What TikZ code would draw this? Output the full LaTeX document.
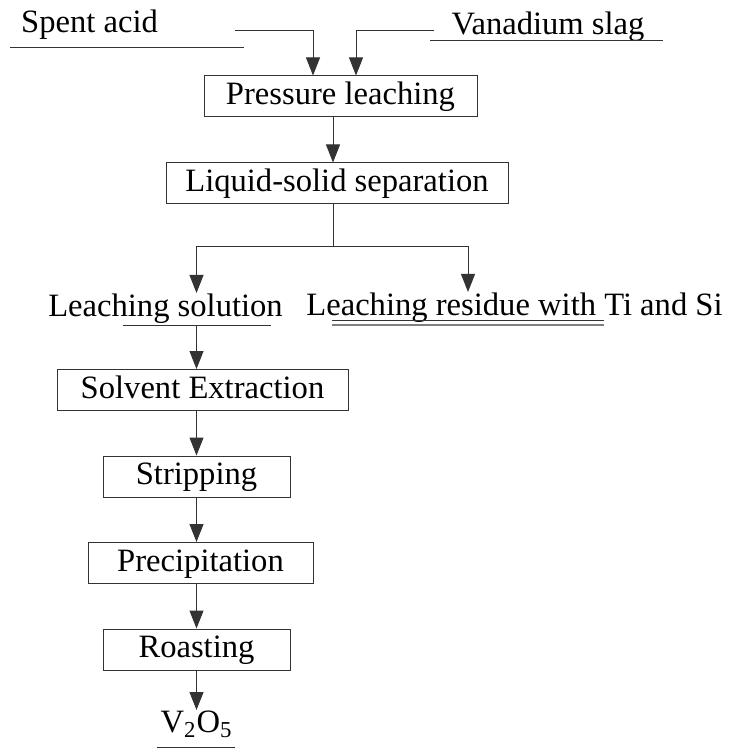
\documentclass[tikz,border=0pt]{standalone}
\usepackage{fontspec}
\setmainfont{Liberation Serif}
\usetikzlibrary{positioning, arrows.meta, calc}

\tikzset{
    stage/.style={draw=black!80, line width=0.5pt, inner sep=0pt,
        minimum height=20.5pt, text height=11.4pt, text depth=3.3pt},
    txt/.style={inner sep=0pt, anchor=base},
    flow/.style={draw=black!80, line width=0.5pt}
}

\begin{document}
\begin{tikzpicture}[
                x=0.5pt, y=-0.5pt,
                node distance=22.25pt,
                font=\fontsize{16.3}{19.5}\selectfont,
                >={Triangle[width=7pt,length=9pt]}
            ]
                \useasboundingbox (0,0) rectangle (728,748);

                % feeds
                \node[txt] (acid) at (89.5,33) {Spent acid};
                \node[txt] (slag) at (548,35) {Vanadium slag};
                \coordinate (acidA) at (10,48);
                \coordinate (acidB) at (244,48);
                \coordinate (acidC) at (235,31);
                \coordinate (slagA) at (430,41);
                \coordinate (slagB) at (663,41);
                \coordinate (slagC) at (434,31);

                \node[stage, minimum width=136.5pt] (press) at (340.5,96.5) {Pressure leaching};
                \node[stage, minimum width=171pt] (liquid) [below=22.5pt of press, xshift=-1.75pt] {Liquid-solid separation};
                \coordinate (split) at (333,247);

                % products
                \node[txt] (sol) at (165.5,316) {Leaching solution};
                \node[txt] (res) at (514.5,315) {Leaching residue with Ti and Si};
                \coordinate (solA) at (123,325);
                \coordinate (solB) at (271,325);
                \coordinate (resA) at (332,320);
                \coordinate (resB) at (604,320);
                \coordinate (resmid) at ($(resA)!.5!(resB)$);

                \node[stage, minimum width=145.5pt] (solvent) at (202.5,390) {Solvent Extraction};
                \node[stage, minimum width=93.5pt] (strip) [below=of solvent, xshift=-3pt] {Stripping};
                \node[stage, minimum width=112.5pt] (precip) [below=of strip, xshift=2pt] {Precipitation};
                \node[stage, minimum width=93.5pt] (roast) [below=of precip, xshift=-2pt] {Roasting};

                \node[txt] (vo) at (196.5,732) {V\textsubscript{2}O\textsubscript{5}};
                \coordinate (voA) at (157,747);
                \coordinate (voB) at (235,747);

                % underlines
                \draw[flow] (acidA) -- (acidB);
                \draw[flow] (slagA) -- (slagB);
                \draw[flow] (solA) -- (solB);
                \draw[flow] (resA) -- (resB);
                \draw[gray, line width=0.75pt] ([yshift=-2.5pt]resA) -- ([yshift=-2.5pt]resB);
                \draw[flow] (voA) -- (voB);

                % connectors
                \draw[flow,->] (acidC) -| ([xshift=-13.75pt]press.north);
                \draw[flow,->] (slagC) -| ([xshift=7.75pt]press.north);
                \draw[flow,->] (press.south -| split) -- (liquid.north -| split);
                \draw[flow] (liquid.south -| split) -- (split);
                \draw[flow,->] (split) -| (sol.north -| strip.north);
                \draw[flow,->] (split) -| (resmid |- res.north);
                \draw[flow,->] (solA -| strip.north) -- (solvent.north -| strip.north);
                \draw[flow,->] (solvent.south -| strip.north) -- (strip.north);
                \draw[flow,->] (strip.south) -- (strip.south |- precip.north);
                \draw[flow,->] (precip.south -| roast.north) -- (roast.north);
                \draw[flow,->] (roast.south) -- (vo.north);
            \end{tikzpicture}
\end{document}
